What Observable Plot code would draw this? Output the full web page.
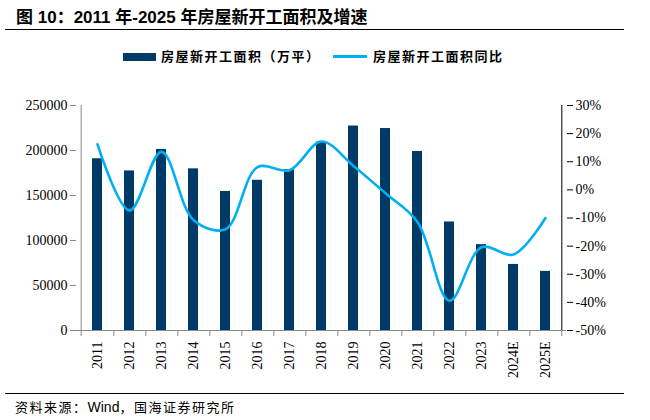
<!DOCTYPE html>
<html><head><meta charset="utf-8">
<script src="https://cdn.jsdelivr.net/npm/d3@7"></script>
<script src="https://cdn.jsdelivr.net/npm/@observablehq/plot@0.6"></script>
<style>
body{margin:0;background:#fff;width:650px;height:420px;position:relative;overflow:hidden;}
.abs{position:absolute;white-space:nowrap;}
#title{left:16px;top:8px;font-weight:bold;font-size:17px;font-family:"Liberation Sans","Noto Sans CJK SC",sans-serif;line-height:20px;}
#rule1{left:5px;top:29px;width:619px;height:0;border-top:1.5px solid #000;}
#rule2{left:5px;top:393px;width:619px;height:0;border-top:1.5px solid #000;}
#caption{left:15px;top:398px;font-size:13px;font-family:"Liberation Sans","Noto Sans CJK SC",sans-serif;letter-spacing:1.5px;line-height:18px;}
#caption .en{letter-spacing:0;font-size:14px;}
.lg{font-weight:bold;font-size:13px;font-family:"Noto Sans CJK SC",sans-serif;letter-spacing:1.5px;line-height:18px;top:47px;}
#sw1{left:123px;top:52.5px;width:33px;height:8px;background:#003a66;}
#sw2{left:333px;top:55px;width:34px;height:3px;background:#00b0f0;}
#lg1{left:161px;}
#lg2{left:373px;}
#chart{left:0;top:80px;}
</style></head>
<body>
<div id="title" class="abs">图 10：2011 年-2025 年房屋新开工面积及增速</div>
<div id="rule1" class="abs"></div>
<div id="sw1" class="abs"></div>
<div id="lg1" class="abs lg">房屋新开工面积（万平）</div>
<div id="sw2" class="abs"></div>
<div id="lg2" class="abs lg">房屋新开工面积同比</div>
<div id="chart" class="abs"></div>
<div id="rule2" class="abs"></div>
<div id="caption" class="abs">资料来源：<span class="en">Wind</span>，国海证券研究所</div>
<script>
const years = ["2011","2012","2013","2014","2015","2016","2017","2018","2019","2020","2021","2022","2023","2024E","2025E"];
const area = [190800, 177300, 201200, 179600, 154500, 166900, 178700, 209300, 227200, 224400, 198900, 120600, 95400, 73400, 65700];
const yoy = [16.2, -7.3, 13.5, -10.7, -14.0, 8.1, 7.0, 17.2, 8.5, -1.2, -11.4, -39.4, -20.4, -23.0, -10.0];
const leftTicks = [0, 50000, 100000, 150000, 200000, 250000];
const rightTicks = [-50, -40, -30, -20, -10, 0, 10, 20, 30];

const W = 650, ML = 76, MR = 84, MT = 25, MB = 55, H = 305;
const step = (W - ML - MR) / years.length;
const pctMin = -50, pctMax = 30, yMax = 250000;
const toLeft = p => (p - pctMin) / (pctMax - pctMin) * yMax;
const fromLeft = v => Math.round(v / yMax * (pctMax - pctMin) + pctMin);
const barData = years.map((y, i) => ({year: y, area: area[i]}));
const lineData = years.map((y, i) => ({year: y, v: toLeft(yoy[i])}));
const last = years[years.length - 1];

const chart = Plot.plot({
  width: W, height: H, marginLeft: ML, marginRight: MR, marginTop: MT, marginBottom: MB,
  style: {fontFamily: "'Liberation Serif', serif", fontSize: "14px", color: "#000", background: "transparent"},
  x: {type: "band", domain: years, paddingInner: 0.694, paddingOuter: 0.347},
  y: {domain: [0, yMax]},
  marks: [
    Plot.barY(barData, {x: "year", y: "area", fill: "#003a66"}),
    Plot.ruleY([0], {stroke: "#888"}),
    Plot.ruleX([years[0]], {dx: -step / 2, stroke: "#888"}),
    Plot.ruleX([last], {dx: step / 2, stroke: "#000"}),
    Plot.axisY(leftTicks, {anchor: "left", tickSize: 6, tickPadding: 3, stroke: "#888", tickFormat: d3.format("d"), label: null}),
    Plot.axisY(rightTicks.map(toLeft), {anchor: "right", tickSize: 6, tickPadding: 3, stroke: "#000", tickFormat: v => fromLeft(v) + "%", label: null}),
    Plot.axisX({tickSize: 6, dx: step / 2, stroke: "#888", tickFormat: () => "", label: null}),
    Plot.axisX([years[0]], {tickSize: 6, dx: -step / 2, stroke: "#888", tickFormat: () => "", label: null}),
    Plot.axisX({tickSize: 0, tickPadding: 11, tickRotate: -90, label: null}),
    Plot.line(lineData, {x: "year", y: "v", stroke: "#00b0f0", strokeWidth: 2.6, curve: "catmull-rom"})
  ]
});
document.getElementById("chart").appendChild(chart);
</script>
</body></html>
